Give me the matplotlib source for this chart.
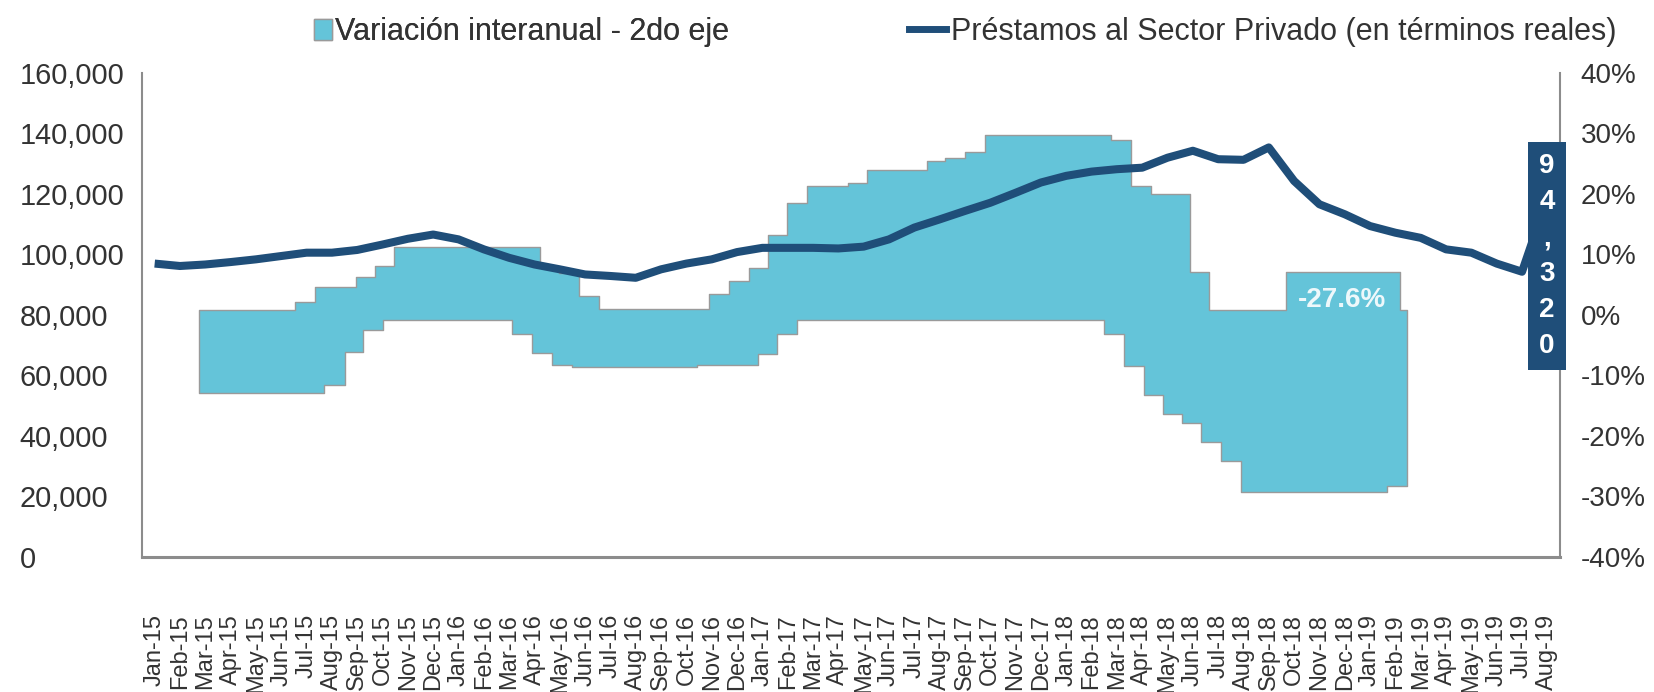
import numpy as np
import matplotlib
matplotlib.use('Agg')
import matplotlib.pyplot as plt
from matplotlib.patches import Patch
from matplotlib.lines import Line2D
from matplotlib.ticker import FuncFormatter, MultipleLocator

plt.rcParams['font.family'] = ['Liberation Sans', 'DejaVu Sans']
plt.rcParams['axes.unicode_minus'] = False

# ---------------- data ----------------
month_names = ['Jan', 'Feb', 'Mar', 'Apr', 'May', 'Jun', 'Jul', 'Aug', 'Sep', 'Oct', 'Nov', 'Dec']
years = ['15', '16', '17', '18', '19']
labels = [f'{m}-{y}' for y in years for m in month_names][:56]

# Préstamos al Sector Privado (en términos reales)
loans = [97000, 96200, 96700, 97500, 98400, 99500, 100600, 100600, 101500, 103300,
         105200, 106600, 105000, 101700, 98900, 96700, 95100, 93400, 92900, 92300,
         95100, 97000, 98400, 100800, 102200, 102200, 102200, 102000, 102600, 105000,
         108900, 111600, 114400, 117100, 120400, 123800, 126000, 127400, 128200, 128700,
         132000, 134300, 131500, 131300, 135400, 124300, 116600, 113300, 109400, 107200,
         105500, 101700, 100600, 97000, 94300, 118700]

# Variación interanual (band as drawn): step breakpoints in month index, values in %
band_top_start = [1.75, 5.55, 6.32, 7.96, 8.72, 9.47, 15.21, 15.97, 16.76, 17.55,
                  21.88, 22.67, 23.46, 24.22, 24.97, 25.76, 27.40, 28.14, 30.51, 31.20,
                  31.99, 32.78, 37.77, 38.56, 39.35, 40.90, 41.65, 44.69, 49.20]
band_top_pct = [0.8, 2.2, 4.7, 6.2, 8.1, 11.3, 8.0, 7.0, 3.1, 1.0,
                3.4, 5.6, 7.8, 13.3, 18.5, 21.4, 21.9, 23.9, 25.4, 26.0,
                26.9, 29.8, 28.9, 21.4, 20.0, 7.1, 0.8, 7.1, 0.8]
band_bot_start = [1.75, 6.68, 7.50, 8.22, 9.01, 14.13, 14.89, 15.68, 16.49, 21.42,
                  23.82, 24.57, 25.36, 37.48, 38.27, 39.06, 39.81, 40.57, 41.32, 42.11,
                  42.89, 48.67]
band_bot_pct = [-12.9, -11.5, -6.1, -2.4, -0.8, -3.1, -6.3, -8.2, -8.6, -8.2,
                -6.5, -3.1, -0.8, -3.1, -8.5, -13.2, -16.3, -17.8, -21.0, -24.2,
                -29.3, -28.3]
band_end = 49.46

last_var_label = '-27.6%'
last_loan_label = '94,320'

# ---------------- style ----------------
BAND_C = '#64C4D9'
BAND_EDGE = '#9a9a9a'
LINE_C = '#1f4e79'
TXT_C = '#333333'
SPINE_C = '#8c8c8c'

W, H = 1654, 692
fig = plt.figure(figsize=(W / 100, H / 100), dpi=100)
ax = fig.add_axes([142 / W, 1 - 557 / H, (1560 - 142) / W, (557 - 73) / H])
ax2 = ax.twinx()

x = np.arange(len(labels))

# band on secondary axis
xs = np.unique(np.r_[band_top_start, band_bot_start, band_end])
top = np.array(band_top_pct)[np.searchsorted(band_top_start, xs, side='right') - 1]
bot = np.array(band_bot_pct)[np.searchsorted(band_bot_start, xs, side='right') - 1]
ax2.fill_between(xs, bot, top, step='post', facecolor=BAND_C, edgecolor=BAND_EDGE,
                 linewidth=1.0)
ax2.text(46.9, 2.5, last_var_label, color='#eef8fb', fontsize=20, fontweight='bold',
         ha='center', va='center')

# line on primary axis (drawn above band)
ax.plot(x, loans, color=LINE_C, lw=5.8, solid_joinstyle='round', solid_capstyle='butt')
ax.set_zorder(ax2.get_zorder() + 1)
ax.patch.set_visible(False)

ax.text(54.98, 99500, '\n'.join(list(last_loan_label)), color='white', fontsize=20,
        fontweight='bold', ha='center', va='center', linespacing=1.5, zorder=5,
        bbox=dict(boxstyle='square,pad=0.4', fc=LINE_C, ec='none'))

# axes limits & ticks
ax.set_xlim(-0.5, 55.5)
ax.set_ylim(0, 160000)
ax2.set_ylim(-40, 40)
ax.yaxis.set_major_locator(MultipleLocator(20000))
ax2.yaxis.set_major_locator(MultipleLocator(10))
ax.yaxis.set_major_formatter(FuncFormatter(lambda v, p: f'{v:,.0f}'))
ax2.yaxis.set_major_formatter(FuncFormatter(lambda v, p: f'{v:.0f}%'))

ax.set_xticks(x)
ax.set_xticklabels(labels, rotation=90, fontsize=17, color=TXT_C)
ax.tick_params(axis='x', length=0, pad=41)
ax.tick_params(axis='y', length=0, pad=88, labelsize=20.8, labelcolor=TXT_C)
for lab in ax.get_yticklabels():
    lab.set_ha('left')
ax2.tick_params(axis='y', length=0, pad=15, labelsize=20, labelcolor=TXT_C)

for a in (ax, ax2):
    a.spines['top'].set_visible(False)
ax.spines['right'].set_visible(False)
ax2.spines['left'].set_visible(False)
ax2.spines['bottom'].set_visible(False)
ax.spines['left'].set_color(SPINE_C)
ax.spines['left'].set_linewidth(1.5)
ax.spines['bottom'].set_color(SPINE_C)
ax.spines['bottom'].set_linewidth(2.2)
ax2.spines['right'].set_color(SPINE_C)
ax2.spines['right'].set_linewidth(1.5)

# legends
h1 = Patch(facecolor=BAND_C, edgecolor=BAND_EDGE, linewidth=1.0)
h2 = Line2D([], [], color=LINE_C, lw=5)
leg1 = fig.legend([h1], ['Variación interanual - 2do eje'], loc='center left',
                  bbox_to_anchor=(314 / W, 1 - 32 / H), frameon=False, fontsize=22,
                  borderpad=0, borderaxespad=0, handlelength=0.6, handleheight=0.7,
                  handletextpad=0.1, labelcolor=TXT_C)
fig.add_artist(leg1)
fig.legend([h2], ['Préstamos al Sector Privado (en términos reales)'], loc='center left',
           bbox_to_anchor=(909 / W, 1 - 32 / H), frameon=False, fontsize=22,
           borderpad=0, borderaxespad=0, handlelength=1.22, handletextpad=0.16,
           labelcolor=TXT_C)

fig.savefig('out.png', dpi=100)
